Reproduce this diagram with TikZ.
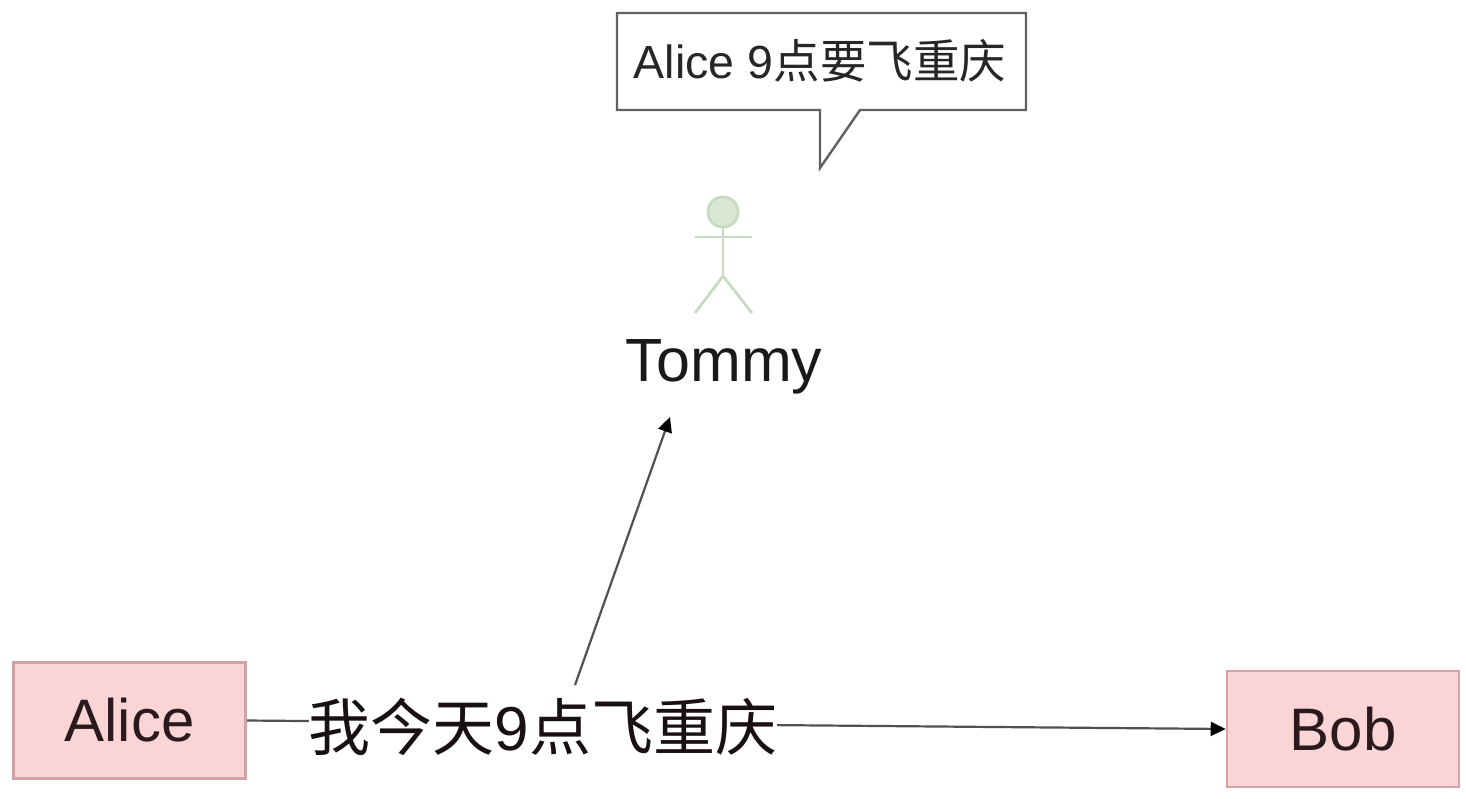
\documentclass[tikz,border=0pt]{standalone}
\usepackage{fontspec}
\setmainfont{Liberation Sans}
\newfontfamily\cjk{Noto Sans CJK SC}
\definecolor{pinkfill}{HTML}{FBD5D5}
\definecolor{pinkline}{HTML}{D0A3A5}
\definecolor{actorfill}{HTML}{D8E8D4}
\definecolor{actorline}{HTML}{C9DAC2}
\definecolor{boxtext}{HTML}{2A1A1E}
\definecolor{bubbleline}{HTML}{606060}
\definecolor{arrowline}{HTML}{505050}
\usetikzlibrary{arrows.meta}
\newcommand{\fsz}[1]{\fontsize{#1}{#1}\selectfont}
\tikzset{
  party/.style={draw=pinkline,fill=pinkfill,line width=2.6pt,minimum width=232pt,minimum height=116pt,inner sep=0pt,text=boxtext,font=\fsz{60}},
  actorstroke/.style={draw=actorline,line width=2.8pt},
  conn/.style={draw=arrowline,line width=2.2pt,-{Triangle[length=15pt,width=14pt,color=black]}},
  saying/.style={fill=white,inner sep=0pt,text=boxtext!60!black,font=\fsz{62}},
}
\begin{document}
\begin{tikzpicture}[x=1pt,y=-1pt]
\useasboundingbox (0,0) rectangle (1466,798);
\node[party] (alice) at (129.5,720.5) {\raisebox{-3pt}{Alice}};
\node[party] (bob) at (1343,729) {\raisebox{-1pt}{Bob}};
\node[font=\fsz{61},text=black!90,inner sep=0pt] (tommy) at (724,367) {Tommy};
\coordinate (tommyin) at (670,417);
\draw[conn] (alice.east) -- (bob.west);
\node[saying,anchor=center] (msg) at (543,727) {{\cjk 我今天}9{\cjk 点飞重庆}};
\coordinate (msgout) at (575,685);
\draw[conn] (msgout) -- (tommyin);
% speech bubble
\draw[draw=bubbleline,line width=2.4pt,fill=white,line join=miter]
  (617,13) -- (1026,13) -- (1026,110) -- (860,110) -- (820,168) -- (820,110) -- (617,110) -- cycle;
\node[font=\fsz{46.5},text=black!85,inner sep=0pt] (bubbletext) at (820,61) {Alice 9{\cjk 点要飞重庆}};
% stick figure
\draw[actorstroke,fill=actorfill] (723,212) circle (15);
\draw[actorstroke] (723,227) -- (723,276);
\draw[actorstroke] (695,237) -- (752,237);
\draw[actorstroke] (695,313) -- (723,276) -- (752,313);
\end{tikzpicture}
\end{document}
